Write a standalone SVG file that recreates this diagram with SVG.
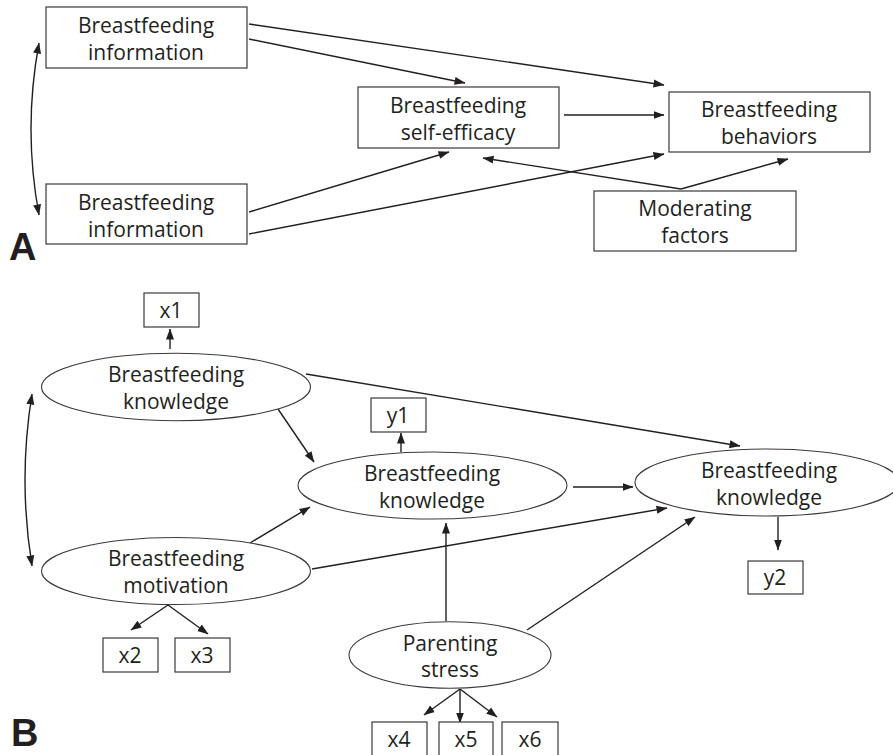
<svg xmlns="http://www.w3.org/2000/svg" width="893" height="755" viewBox="0 0 893 755">
<defs>
<marker id="ah" markerUnits="userSpaceOnUse" markerWidth="11" markerHeight="9" refX="10.5" refY="4" orient="auto-start-reverse" viewBox="0 0 11 8">
<path d="M0,0 L11,4 L0,8 z" fill="#231f20"/>
</marker>
<style>
.box{fill:#fff;stroke:#3a3a3a;stroke-width:1.2}
.ell{fill:#fff;stroke:#3a3a3a;stroke-width:1.1}
.t{font-family:"Open Sans","Noto Sans","DejaVu Sans",sans-serif;font-size:21px;fill:#231f20;text-anchor:middle}
.lbl{font-family:"Liberation Sans",Arial,sans-serif;font-weight:bold;font-size:38px;fill:#231f20}
.c{fill:none;stroke:#231f20;stroke-width:1.4;marker-end:url(#ah)}
.d{fill:none;stroke:#231f20;stroke-width:1.4;marker-start:url(#ah);marker-end:url(#ah)}
</style>
</defs>
<rect width="893" height="755" fill="#fff"/>

<g id="connectors">
<!-- A -->
<path class="d" d="M39,43 Q23,129 39,215"/>
<line class="c" x1="249" y1="24" x2="664" y2="85"/>
<line class="c" x1="249" y1="39" x2="465" y2="83"/>
<line class="c" x1="249" y1="212" x2="449" y2="152"/>
<line class="c" x1="249" y1="234" x2="664" y2="154"/>
<line class="c" x1="564" y1="115" x2="664" y2="115"/>
<line class="c" x1="681" y1="189" x2="483" y2="158"/>
<line class="c" x1="681" y1="189" x2="788" y2="159"/>
<!-- B -->
<path class="d" d="M32,394 Q18,480 32,566"/>
<line class="c" x1="170" y1="349" x2="170" y2="329"/>
<line class="c" x1="401" y1="452" x2="401" y2="433"/>
<line class="c" x1="306" y1="374" x2="740" y2="446"/>
<line class="c" x1="278" y1="409" x2="314" y2="462"/>
<line class="c" x1="573" y1="487" x2="633" y2="487"/>
<line class="c" x1="250" y1="543" x2="310" y2="507"/>
<line class="c" x1="312" y1="569" x2="667" y2="508"/>
<line class="c" x1="446" y1="621" x2="446" y2="523"/>
<line class="c" x1="527" y1="630" x2="695" y2="517"/>
<line class="c" x1="778" y1="517" x2="778" y2="550"/>
<line class="c" x1="168" y1="605" x2="131" y2="630"/>
<line class="c" x1="168" y1="605" x2="208" y2="634"/>
<line class="c" x1="460" y1="689" x2="424" y2="715"/>
<line class="c" x1="460" y1="689" x2="460" y2="723"/>
<line class="c" x1="460" y1="689" x2="497" y2="717"/>
</g>

<g id="A-label"><text class="lbl" x="9" y="260">A</text></g>
<g id="B-label"><text class="lbl" x="11" y="746">B</text></g>

<g id="infoA1">
<rect class="box" x="46" y="7" width="201" height="61"/>
<text class="t" x="146" y="33">Breastfeeding</text>
<text class="t" x="146" y="60">information</text>
</g>
<g id="infoA2">
<rect class="box" x="46" y="184" width="201" height="60"/>
<text class="t" x="146" y="210">Breastfeeding</text>
<text class="t" x="146" y="237">information</text>
</g>
<g id="selfEfficacy">
<rect class="box" x="358" y="87" width="201" height="61"/>
<text class="t" x="458" y="113">Breastfeeding</text>
<text class="t" x="458" y="140">self-efficacy</text>
</g>
<g id="behaviors">
<rect class="box" x="669" y="92" width="201" height="60"/>
<text class="t" x="769" y="117">Breastfeeding</text>
<text class="t" x="769" y="144">behaviors</text>
</g>
<g id="moderating">
<rect class="box" x="594" y="191" width="202" height="60"/>
<text class="t" x="695" y="216">Moderating</text>
<text class="t" x="695" y="243">factors</text>
</g>

<g id="x1">
<rect class="box" x="144" y="293" width="55" height="34"/>
<text class="t" x="171" y="318">x1</text>
</g>
<g id="knowledgeB1">
<ellipse class="ell" cx="176" cy="387" rx="134.5" ry="33.7"/>
<text class="t" x="176" y="382">Breastfeeding</text>
<text class="t" x="176" y="409">knowledge</text>
</g>
<g id="y1">
<rect class="box" x="371" y="398" width="55" height="34"/>
<text class="t" x="398" y="423">y1</text>
</g>
<g id="knowledgeB2">
<ellipse class="ell" cx="432.5" cy="485.5" rx="134.5" ry="33.5"/>
<text class="t" x="432" y="481">Breastfeeding</text>
<text class="t" x="432" y="508">knowledge</text>
</g>
<g id="knowledgeB3">
<ellipse class="ell" cx="767" cy="482.5" rx="132" ry="33.5"/>
<text class="t" x="769" y="478">Breastfeeding</text>
<text class="t" x="769" y="505">knowledge</text>
</g>
<g id="y2">
<rect class="box" x="748" y="561" width="55" height="33"/>
<text class="t" x="775" y="585">y2</text>
</g>
<g id="motivation">
<ellipse class="ell" cx="176" cy="571" rx="134.5" ry="33.5"/>
<text class="t" x="176" y="566">Breastfeeding</text>
<text class="t" x="176" y="593">motivation</text>
</g>
<g id="x2">
<rect class="box" x="103" y="638" width="55" height="34"/>
<text class="t" x="130" y="663">x2</text>
</g>
<g id="x3">
<rect class="box" x="175" y="638" width="55" height="34"/>
<text class="t" x="202" y="663">x3</text>
</g>
<g id="parentingStress">
<ellipse class="ell" cx="450" cy="655" rx="101" ry="33.3"/>
<text class="t" x="450" y="651">Parenting</text>
<text class="t" x="450" y="677">stress</text>
</g>
<g id="x4">
<rect class="box" x="372" y="722" width="55" height="35"/>
<text class="t" x="399" y="747">x4</text>
</g>
<g id="x5">
<rect class="box" x="439" y="722" width="54" height="35"/>
<text class="t" x="466" y="747">x5</text>
</g>
<g id="x6">
<rect class="box" x="502" y="722" width="56" height="35"/>
<text class="t" x="530" y="747">x6</text>
</g>
</svg>
